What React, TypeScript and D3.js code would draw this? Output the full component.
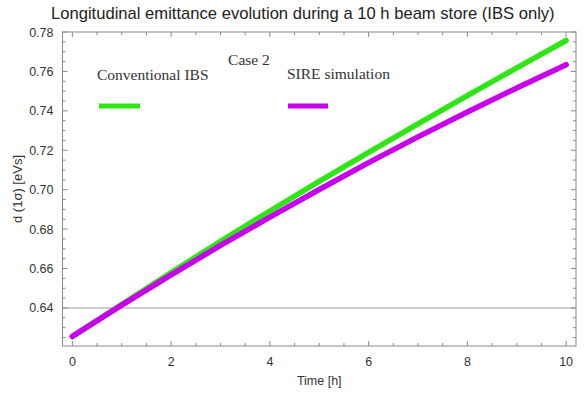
import React from "react";
import * as d3 from "d3";

const timeH = [0, 1, 2, 3, 4, 5, 6, 7, 8, 9, 10];
const conventionalIBS = [0.6254, 0.6418, 0.658, 0.6738, 0.6892, 0.7042, 0.7189, 0.7334, 0.7477, 0.7618, 0.7757];
const sireSimulation = [0.6256, 0.6414, 0.6568, 0.6717, 0.6861, 0.7001, 0.7137, 0.7268, 0.7394, 0.7516, 0.7634];
const xTickLabels = [0, 2, 4, 6, 8, 10];
const yTickLabels = [0.64, 0.66, 0.68, 0.7, 0.72, 0.74, 0.76, 0.78];
const seriesNames = ["Conventional IBS", "SIRE simulation"];
const titleText = "Longitudinal emittance evolution during a 10 h beam store (IBS only)";
const caseText = "Case 2";
const xLabel = "Time [h]";
const yLabel = "d (1σ) [eVs]";
const refLine = 0.64;

const W = 586;
const H = 395;
const L = 62.5, R = 576, T = 32, B = 346;
const GREEN = "#2ee614";
const PURPLE = "#c800ee";
const FRAME = "#8a8a8a";

export default function App() {
  const x = d3.scaleLinear().domain([-0.2, 10.2]).range([L, R]);
  const y = d3.scaleLinear().domain([0.6207, 0.78]).range([B, T]);
  const line = d3
    .line<number>()
    .x((_, i) => x(timeH[i]))
    .y((d) => y(d))
    .curve(d3.curveMonotoneX);

  const xMinor = d3.range(0, 10.001, 0.5);
  const yMinor = d3.range(0.625, 0.7801, 0.005);
  const isMajorX = (t: number) => Math.abs(t / 2 - Math.round(t / 2)) < 1e-6;
  const isMajorY = (v: number) => Math.abs(v / 0.02 - Math.round(v / 0.02)) < 1e-6;

  return (
    <svg width={W} height={H} style={{ position: "absolute", left: 0, top: 0, background: "#fff" }}>
      <text x={51} y={19} textAnchor="start" fontFamily="Liberation Sans, Arial, sans-serif" fontSize={16.6} fill="#222">
        {titleText}
      </text>

      {/* reference horizontal line */}
      <line x1={L} x2={R} y1={y(refLine)} y2={y(refLine)} stroke="#9a9a9a" strokeWidth={1} />

      {/* curves */}
      <path d={line(conventionalIBS) || ""} fill="none" stroke={GREEN} strokeWidth={5.5} strokeLinecap="round" />
      <path d={line(sireSimulation) || ""} fill="none" stroke={PURPLE} strokeWidth={5.5} strokeLinecap="round" />

      {/* frame */}
      <rect x={L} y={T} width={R - L} height={B - T} fill="none" stroke={FRAME} strokeWidth={1} />

      {/* ticks */}
      {xMinor.map((t) => {
        const len = isMajorX(t) ? 5 : 3;
        return (
          <g key={"xt" + t}>
            <line x1={x(t)} x2={x(t)} y1={B} y2={B - len} stroke={FRAME} />
            <line x1={x(t)} x2={x(t)} y1={T} y2={T + len} stroke={FRAME} />
          </g>
        );
      })}
      {yMinor.map((v) => {
        const len = isMajorY(v) ? 5 : 3;
        return (
          <g key={"yt" + v.toFixed(3)}>
            <line x1={L} x2={L + len} y1={y(v)} y2={y(v)} stroke={FRAME} />
            <line x1={R} x2={R - len} y1={y(v)} y2={y(v)} stroke={FRAME} />
          </g>
        );
      })}

      {xTickLabels.map((t) => (
        <text key={"xl" + t} x={x(t)} y={366} textAnchor="middle" fontFamily="Liberation Sans, Arial, sans-serif" fontSize={12.5} fill="#333">
          {t}
        </text>
      ))}
      {yTickLabels.map((v) => (
        <text key={"yl" + v} x={L - 9} y={y(v) + 4.5} textAnchor="end" fontFamily="Liberation Sans, Arial, sans-serif" fontSize={12.5} fill="#333">
          {v.toFixed(2)}
        </text>
      ))}

      <text x={x(5)} y={385} textAnchor="middle" fontFamily="Liberation Sans, Arial, sans-serif" fontSize={12.5} fill="#333">
        {xLabel}
      </text>
      <text transform={`translate(22,${(T + B) / 2}) rotate(-90)`} textAnchor="middle" fontFamily="Liberation Sans, Arial, sans-serif" fontSize={13} fill="#333">
        {yLabel}
      </text>

      {/* legend */}
      <text x={249} y={65} textAnchor="middle" fontFamily="Liberation Serif, Times New Roman, serif" fontSize={15.5} fill="#333">
        {caseText}
      </text>
      <text x={97} y={80} fontFamily="Liberation Serif, Times New Roman, serif" fontSize={15.5} fill="#333">
        {seriesNames[0]}
      </text>
      <line x1={99} x2={140} y1={106} y2={106} stroke={GREEN} strokeWidth={5} />
      <text x={287} y={79} fontFamily="Liberation Serif, Times New Roman, serif" fontSize={15.5} fill="#333">
        {seriesNames[1]}
      </text>
      <line x1={288} x2={328} y1={106} y2={106} stroke={PURPLE} strokeWidth={5} />
    </svg>
  );
}
